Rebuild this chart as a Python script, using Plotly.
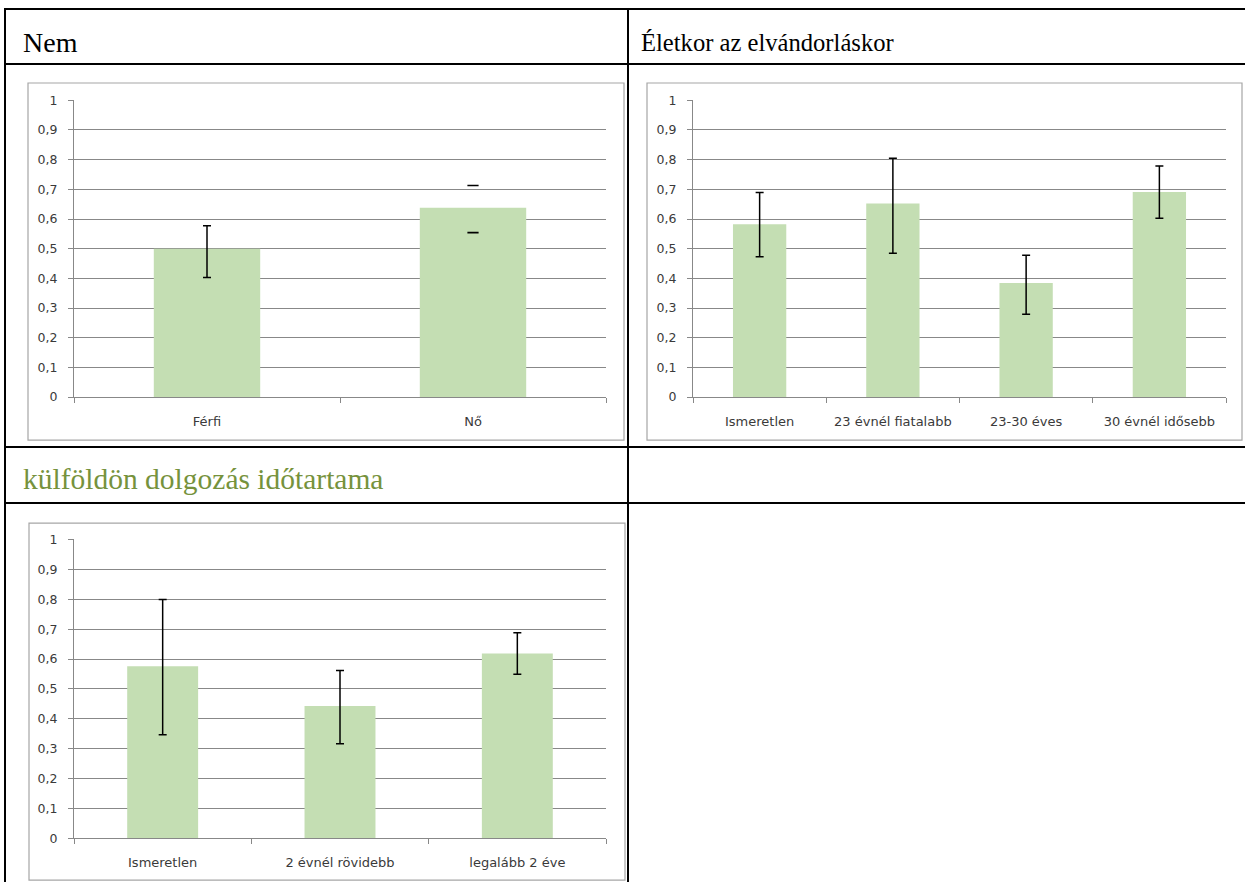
import plotly.graph_objects as go

# ---------------- data ----------------
y_ticks = [0, 0.1, 0.2, 0.3, 0.4, 0.5, 0.6, 0.7, 0.8, 0.9, 1]
y_ticktext = ["0", "0,1", "0,2", "0,3", "0,4", "0,5", "0,6", "0,7", "0,8", "0,9", "1"]

nem_title = "Nem"
nem_cats = ["Férfi", "Nő"]
nem_vals = [0.50, 0.638]
nem_upper = [0.577, 0.713]
nem_lower = [0.403, 0.554]
nem_stem = [True, False]   # Nő: only the caps are visible in the source

kor_title = "Életkor az elvándorláskor"
kor_cats = ["Ismeretlen", "23 évnél fiatalabb", "23-30 éves", "30 évnél idősebb"]
kor_vals = [0.582, 0.652, 0.384, 0.691]
kor_upper = [0.689, 0.805, 0.478, 0.779]
kor_lower = [0.473, 0.485, 0.279, 0.603]

dur_title = "külföldön dolgozás időtartama"
dur_cats = ["Ismeretlen", "2 évnél rövidebb", "legalább 2 éve"]
dur_vals = [0.576, 0.443, 0.619]
dur_upper = [0.799, 0.562, 0.688]
dur_lower = [0.347, 0.317, 0.549]

# ---------------- style / layout ----------------
W = 1245
HP = 892            # page height of the figure
Y_OFF, Y_SCALE = 7.0, 0.983   # capture mapping: shown_y = Y_OFF + Y_SCALE * page_y

BAR = "#C4DEB3"
GRID = "#888888"
FRAME = "#A6A6A6"
TXT = "#3A3A3A"
XFONT = dict(family="DejaVu Sans", size=13, color=TXT)
YFONT = dict(family="DejaVu Sans", size=12.5, color=TXT)


def px(x):
    return x / W


def py(y_shown):
    page_y = (y_shown - Y_OFF) / Y_SCALE
    return 1 - page_y / HP


fig = go.Figure()


def add_chart(idx, cats, vals, upper, lower, stem=None):
    ax = "" if idx == 1 else str(idx)
    if stem is None:
        stem = [True] * len(cats)
    fig.add_trace(go.Bar(
        x=cats, y=vals, width=0.4, marker=dict(color=BAR, line=dict(width=0)),
        xaxis="x" + ax, yaxis="y" + ax, showlegend=False, hoverinfo="skip"))
    # full error bars (stem + caps)
    ex = [c for c, s in zip(cats, stem) if s]
    ev = [v for v, s in zip(vals, stem) if s]
    eplus = [u - v for u, v, s in zip(upper, vals, stem) if s]
    eminus = [v - l for l, v, s in zip(lower, vals, stem) if s]
    if ex:
        fig.add_trace(go.Scatter(
            x=ex, y=ev, mode="markers", marker=dict(size=1, opacity=0),
            error_y=dict(type="data", symmetric=False, array=eplus, arrayminus=eminus,
                         color="black", thickness=1.5, width=4),
            xaxis="x" + ax, yaxis="y" + ax, showlegend=False, hoverinfo="skip"))
    # caps only (no stem)
    cx, cy = [], []
    for c, u, l, s in zip(cats, upper, lower, stem):
        if not s:
            cx += [c, c]
            cy += [u, l]
    if cx:
        fig.add_trace(go.Scatter(
            x=cx, y=cy, mode="markers",
            marker=dict(symbol="line-ew", size=8, line=dict(width=1.6, color="black")),
            xaxis="x" + ax, yaxis="y" + ax, showlegend=False, hoverinfo="skip"))


add_chart(1, nem_cats, nem_vals, nem_upper, nem_lower, nem_stem)
add_chart(2, kor_cats, kor_vals, kor_upper, kor_lower)
add_chart(3, dur_cats, dur_vals, dur_upper, dur_lower)

xaxis_common = dict(type="category", showgrid=False, showline=True, linecolor=GRID, linewidth=1,
                    ticks="outside", tickson="boundaries", ticklen=5, tickcolor=GRID,
                    tickfont=XFONT, ticklabelstandoff=12, zeroline=False, fixedrange=True)
yaxis_common = dict(range=[0, 1], tickvals=y_ticks, ticktext=y_ticktext, showgrid=True,
                    gridcolor=GRID, gridwidth=1, showline=True, linecolor=GRID, linewidth=1,
                    ticks="outside", ticklen=5, tickcolor=GRID, tickfont=YFONT,
                    ticklabelstandoff=8, zeroline=False, fixedrange=True)

fig.update_layout(
    width=W, height=HP, margin=dict(l=0, r=0, t=0, b=0),
    paper_bgcolor="white", plot_bgcolor="white", bargap=0.6,
    xaxis=dict(domain=[px(74), px(606)], anchor="y", **xaxis_common),
    yaxis=dict(domain=[py(396), py(99.3)], anchor="x", **yaxis_common),
    xaxis2=dict(domain=[px(693), px(1226)], anchor="y2", **xaxis_common),
    yaxis2=dict(domain=[py(396), py(99.3)], anchor="x2", **yaxis_common),
    xaxis3=dict(domain=[px(74), px(606)], anchor="y3", **xaxis_common),
    yaxis3=dict(domain=[py(837.3), py(538.4)], anchor="x3", **yaxis_common),
)

shapes = []
# chart frames
for (x0, y0, x1, y1) in [(28, 82, 624, 439), (647, 82, 1242, 439), (29, 522, 625, 879)]:
    shapes.append(dict(type="rect", xref="paper", yref="paper", x0=px(x0), x1=px(x1),
                       y0=py(y1), y1=py(y0), line=dict(color=FRAME, width=1.2),
                       fillcolor="rgba(0,0,0,0)", layer="below"))
# table lines
for yy in [8, 63, 446, 502]:
    shapes.append(dict(type="line", xref="paper", yref="paper", x0=px(5), x1=1,
                       y0=py(yy), y1=py(yy), line=dict(color="black", width=2)))
for xx in [5, 628]:
    shapes.append(dict(type="line", xref="paper", yref="paper", x0=px(xx), x1=px(xx),
                       y0=0, y1=py(7), line=dict(color="black", width=2)))
fig.update_layout(shapes=shapes)

SERIF = "Liberation Serif"
fig.update_layout(annotations=[
    dict(text=nem_title, x=px(21), y=py(41), xref="paper", yref="paper", xanchor="left",
         yanchor="middle", showarrow=False, font=dict(family=SERIF, size=28, color="black")),
    dict(text=kor_title, x=px(639), y=py(41), xref="paper", yref="paper", xanchor="left",
         yanchor="middle", showarrow=False, font=dict(family=SERIF, size=24.6, color="black")),
    dict(text=dur_title, x=px(21), y=py(478), xref="paper", yref="paper", xanchor="left",
         yanchor="middle", showarrow=False, font=dict(family=SERIF, size=29.5, color="#76923C")),
])

POST = (
    "var d=document.getElementById('{plot_id}');"
    "d.style.position='fixed';d.style.left='0px';d.style.top='0px';"
    "document.body.style.margin='0';document.body.style.padding='0';"
    "document.body.style.overflow='hidden';"
    "document.documentElement.style.overflow='hidden';"
)

fig.write_html("out.html", config={"displayModeBar": False}, post_script=POST)
